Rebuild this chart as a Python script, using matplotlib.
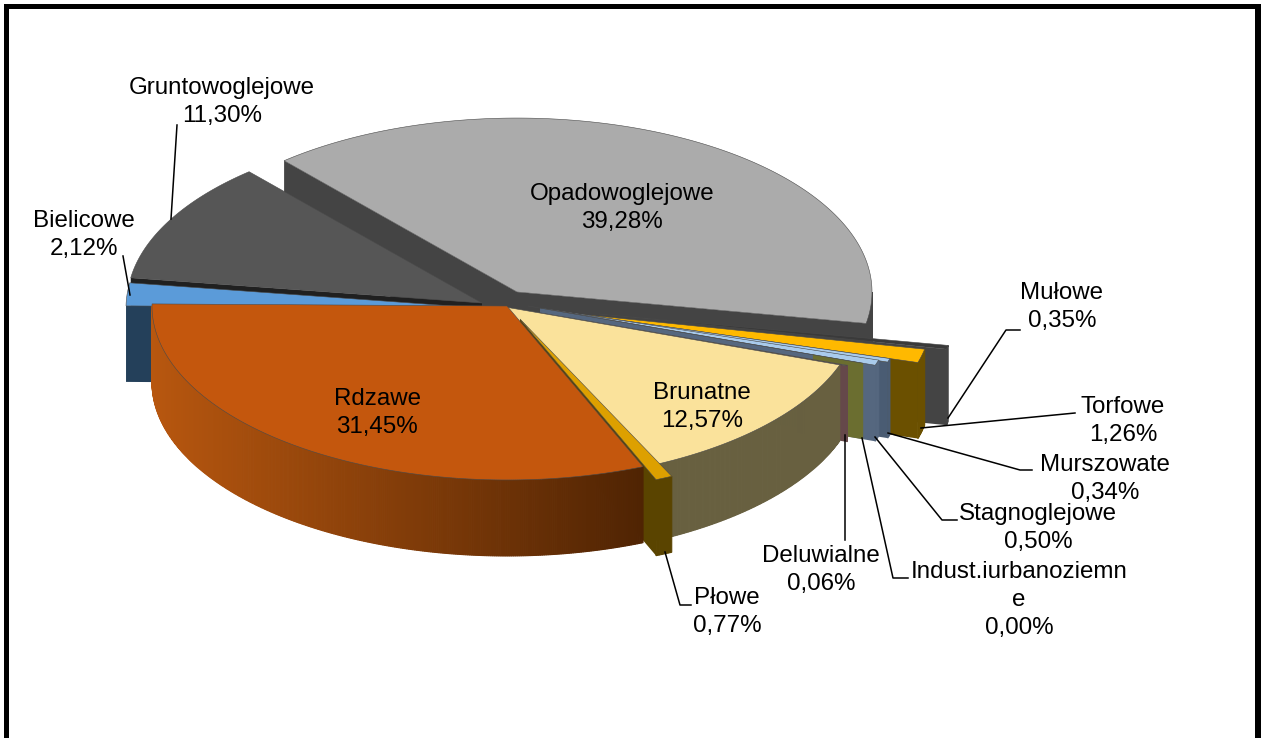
import numpy as np
import matplotlib
matplotlib.use("Agg")
import matplotlib.pyplot as plt
from matplotlib.colors import to_rgb
from matplotlib.patches import Polygon, Rectangle

plt.rcParams["font.family"] = ["Liberation Sans", "DejaVu Sans"]

# ── Data ──────────────────────────────────────────────────────────────────────
names = ["Opadowoglejowe", "Mułowe", "Torfowe", "Murszowate", "Stagnoglejowe",
         "Indust.iurbanoziemne", "Deluwialne", "Brunatne", "Płowe", "Rdzawe",
         "Bielicowe", "Gruntowoglejowe"]
values = [39.28, 0.35, 1.26, 0.34, 0.50, 0.00, 0.06, 12.57, 0.77, 31.45, 2.12, 11.30]
value_labels = ["39,28%", "0,35%", "1,26%", "0,34%", "0,50%", "0,00%", "0,06%",
                "12,57%", "0,77%", "31,45%", "2,12%", "11,30%"]

# ── Style ─────────────────────────────────────────────────────────────────────
W, H, DPI = 1265, 738, 100
CX, CY = 507, 305          # pie centre in pixels
R, SQUASH, DEPTH = 355, 0.49, 76
START = -41.0              # degrees clockwise from top

top_cols = ["#ABABAB", "#3A3A3A", "#FFB900", "#A9CBEC", "#A9CBEC", "#9AB0D0",
            "#8F7070", "#FAE29B", "#DDA000", "#C4570D", "#5B9BD9", "#565656"]
wall_cols = ["#444444", "#444444", "#6B5000", "#4A5C73", "#55677F", "#6B6E30",
             "#65484A", "#686040", "#5A4400", "#8A420C", "#24405A", "#202020"]
# explosion of every slice, in pixels
shift = [(10, -13), (92, 9), (70, 9), (42, 5), (33, 3), (21, 1), (5, 3),
         (-2, 2), (13, 14), (0, 1), (-26, 3), (-25, -2)]
# painter order, back to front
order = [0, 11, 10, 1, 2, 3, 4, 5, 6, 7, 8, 9]
# these cut faces only show close to the rim, the neighbours hide the rest
short_faces = ("Indust.iurbanoziemne", "Deluwialne")

fig = plt.figure(figsize=(W / DPI, H / DPI), dpi=DPI, facecolor="white")
ax = fig.add_axes([0, 0, 1, 1])
ax.set_xlim(0, W); ax.set_ylim(H, 0)
ax.axis("off")


def rim(cx, cy, deg):
    a = np.radians(deg)
    return cx + R * np.sin(a), cy - R * SQUASH * np.cos(a)


def lerp(c1, c2, t):
    t = min(max(t, 0), 1)
    return tuple(np.array(to_rgb(c1)) * (1 - t) + np.array(to_rgb(c2)) * t)


def draw_slice(i, a0, a1, zo):
    cx, cy = CX + shift[i][0], CY + shift[i][1]
    # radial faces, only those turned towards the viewer
    faces = []
    if np.sin(np.radians(a0)) < 0:
        faces.append(a0)
    if np.sin(np.radians(a1)) > 0:
        faces.append(a1)
    for ang in faces:
        x, y = rim(cx, cy, ang)
        ix, iy = cx, cy
        if names[i] in short_faces:
            ix, iy = x + (cx - x) * 0.15, y + (cy - y) * 0.15
        ax.add_patch(Polygon([(ix, iy), (x, y), (x, y + DEPTH), (ix, iy + DEPTH)],
                             fc=wall_cols[i], ec="none", zorder=zo))
    # outer wall
    lo, hi = max(a0, 90), min(a1, 270)
    if hi > lo:
        steps = np.linspace(lo, hi, max(int(hi - lo) * 3, 2))
        for s0, s1 in zip(steps[:-1], steps[1:]):
            x0, y0 = rim(cx, cy, s0)
            x1, y1 = rim(cx, cy, s1)
            col = wall_cols[i]
            if names[i] == "Rdzawe":
                col = lerp("#B8570F", "#4E2303", (x0 - 150) / 500)
            ax.add_patch(Polygon([(x0, y0), (x1, y1), (x1, y1 + DEPTH), (x0, y0 + DEPTH)],
                                 fc=col, ec=col, lw=0.8, zorder=zo + 0.1))
    # top surface
    arc = np.linspace(a0, a1, max(int(a1 - a0) * 2, 2))
    xy = [(cx, cy)] + [rim(cx, cy, s) for s in arc]
    top_z = 25 if names[i] == "Płowe" else zo + 0.5
    ax.add_patch(Polygon(xy, fc=top_cols[i], ec="#4a4a4a", lw=0.4, zorder=top_z))


angles = START + np.concatenate([[0], np.cumsum(values)]) * 3.6
for n, i in enumerate(order):
    draw_slice(i, angles[i], angles[i + 1], 2 + n)

# ── Labels ────────────────────────────────────────────────────────────────────
label_xy = {
    0: (622, 208), 1: (1062, 307), 2: (1123, 421), 3: (1105, 479), 4: (1038, 528),
    6: (821, 570), 7: (702, 407), 8: (727, 612), 9: (377, 413), 10: (84, 235),
    11: (222, 102),
}
for i, (x, y) in label_xy.items():
    ax.text(x, y, f"{names[i]}\n{value_labels[i]}", fontsize=17.4, ha="center", va="center",
            linespacing=1.34, color="black", zorder=30)
ax.text(1019, 600, "Indust.iurbanoziemn\ne\n" + value_labels[5], fontsize=17.4, ha="center",
        va="center", linespacing=1.34, color="black", zorder=30)

# ── Leader lines ──────────────────────────────────────────────────────────────
leaders = [
    [(177, 125), (171, 219)],
    [(123, 256), (130, 295)],
    [(1020, 330), (1006, 330), (948, 418)],
    [(1075, 413), (921, 428)],
    [(1032, 470), (1020, 470), (888, 433)],
    [(957, 520), (942, 520), (875, 437)],
    [(908, 578), (893, 578), (862, 438)],
    [(845, 540), (845, 435)],
    [(691, 605), (680, 605), (665, 552)],
]
for pts in leaders:
    xs, ys = zip(*pts)
    ax.plot(xs, ys, color="black", lw=1.1, zorder=20)

# ── Frame ─────────────────────────────────────────────────────────────────────
ax.add_patch(Rectangle((4, 4), 1257, 5, fc="black", ec="none", zorder=40))
ax.add_patch(Rectangle((4, 4), 5, 740, fc="black", ec="none", zorder=40))
ax.add_patch(Rectangle((1255, 4), 6, 740, fc="black", ec="none", zorder=40))

fig.savefig("out.png", dpi=DPI, facecolor="white")
